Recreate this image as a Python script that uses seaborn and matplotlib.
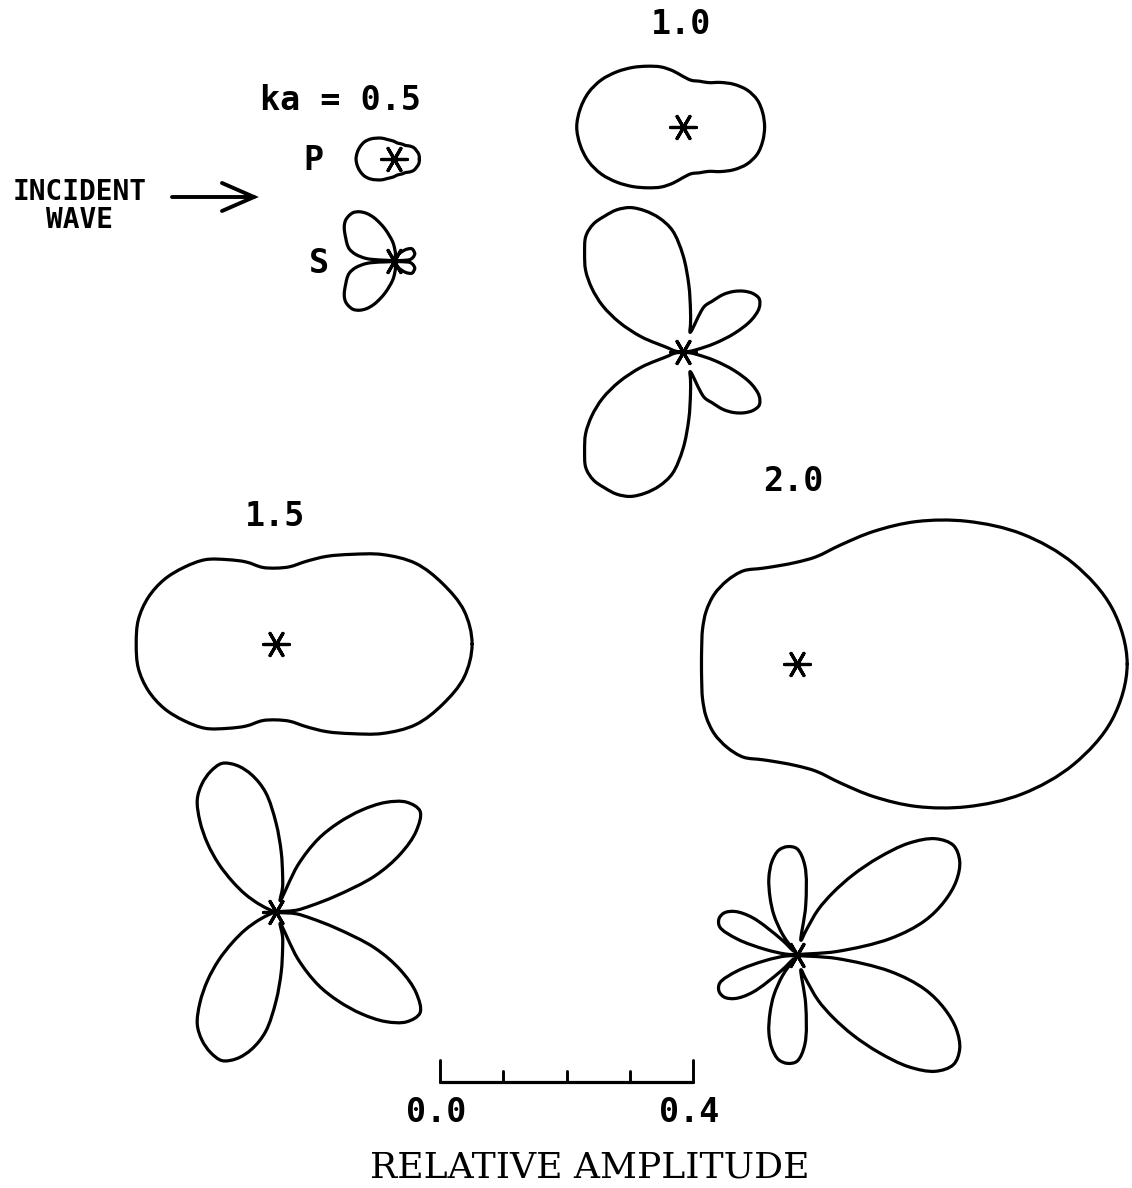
import numpy as np
import pandas as pd
import matplotlib
matplotlib.use("Agg")
import matplotlib.pyplot as plt
from matplotlib.path import Path
from matplotlib.patches import PathPatch
import seaborn as sns

# ---------------------------------------------------------------------------
# Far-field scattered amplitudes (relative to the incident wave) for a
# spherical inclusion, P- and S-wave patterns. Angle is measured from the
# forward direction (incident wave travels left -> right); the patterns are
# symmetric about that axis, so only 0..180 degrees is tabulated.
# ---------------------------------------------------------------------------
ka_labels = ["0.5", "1.0", "1.5", "2.0"]

p_angles = np.arange(0, 181, 10)
s_angles = np.arange(0, 181, 5)

p_ka05 = [0.040, 0.040, 0.038, 0.036, 0.032, 0.028, 0.027, 0.026, 0.026, 0.028,
          0.030, 0.033, 0.038, 0.043, 0.049, 0.054, 0.057, 0.059, 0.060]
p_ka10 = [0.129, 0.128, 0.125, 0.117, 0.105, 0.092, 0.081, 0.077, 0.075, 0.080,
          0.090, 0.101, 0.111, 0.123, 0.136, 0.149, 0.159, 0.165, 0.168]
p_ka15 = [0.310, 0.302, 0.280, 0.255, 0.220, 0.185, 0.160, 0.139, 0.124, 0.120,
          0.123, 0.138, 0.154, 0.174, 0.189, 0.204, 0.215, 0.221, 0.221]
p_ka20 = [0.522, 0.506, 0.465, 0.411, 0.351, 0.294, 0.242, 0.200, 0.172, 0.161,
          0.158, 0.161, 0.170, 0.172, 0.171, 0.166, 0.159, 0.153, 0.151]

s_ka05 = [0.000, 0.025, 0.030, 0.033, 0.035, 0.035, 0.035, 0.034, 0.030, 0.025,
          0.019, 0.014, 0.009, 0.006, 0.005, 0.008, 0.013, 0.017, 0.024, 0.032,
          0.040, 0.051, 0.063, 0.076, 0.087, 0.095, 0.100, 0.101, 0.100, 0.096,
          0.090, 0.084, 0.079, 0.073, 0.062, 0.043, 0.000]
s_ka10 = [0.000, 0.009, 0.022, 0.051, 0.087, 0.119, 0.139, 0.147, 0.144, 0.136,
          0.125, 0.111, 0.093, 0.079, 0.033, 0.046, 0.068, 0.106, 0.153, 0.193,
          0.215, 0.231, 0.243, 0.248, 0.248, 0.247, 0.239, 0.220, 0.201, 0.176,
          0.147, 0.111, 0.070, 0.024, 0.016, 0.009, 0.000]
s_ka15 = [0.000, 0.032, 0.055, 0.098, 0.166, 0.217, 0.256, 0.278, 0.270, 0.245,
          0.210, 0.172, 0.133, 0.082, 0.019, 0.040, 0.060, 0.095, 0.141, 0.190,
          0.220, 0.240, 0.250, 0.245, 0.234, 0.217, 0.187, 0.153, 0.118, 0.084,
          0.056, 0.030, 0.011, 0.005, 0.003, 0.002, 0.000]
s_ka20 = [0.000, 0.063, 0.150, 0.209, 0.248, 0.278, 0.297, 0.302, 0.286, 0.250,
          0.201, 0.155, 0.114, 0.079, 0.040, 0.024, 0.079, 0.142, 0.168, 0.172,
          0.168, 0.153, 0.130, 0.101, 0.073, 0.040, 0.008, 0.035, 0.092, 0.120,
          0.133, 0.136, 0.130, 0.098, 0.051, 0.019, 0.000]

scale_ticks = [0.0, 0.1, 0.2, 0.3, 0.4]
scale_labels = ["0.0", "0.4"]

# ---------------------------------------------------------------------------
# Page layout (pixel coordinates on the sheet, y downwards)
# ---------------------------------------------------------------------------
W, H = 1132, 1188
PX_PER_UNIT = 632.5          # one unit of relative amplitude on the sheet

pattern_origin = {           # (x, y_P, y_S)
    "0.5": (394, 159, 261),
    "1.0": (683, 127, 352),
    "1.5": (276, 644, 912),
    "2.0": (797, 664, 955),
}
p_data = {"0.5": p_ka05, "1.0": p_ka10, "1.5": p_ka15, "2.0": p_ka20}
s_data = {"0.5": s_ka05, "1.0": s_ka10, "1.5": s_ka15, "2.0": s_ka20}

LW = 2.3
INK = "black"

sns.set_theme(style="white")
plt.rcParams["font.family"] = ["DejaVu Sans Mono", "DejaVu Sans"]

fig = plt.figure(figsize=(W / 100, H / 100), dpi=100)
ax = fig.add_axes([0, 0, 1, 1])


def pattern_path(angles, radii, cx, cy, alpha=0.5):
    """Closed polar curve through the tabulated amplitudes, drawn as a
    centripetal Catmull-Rom spline expressed with cubic Bezier segments."""
    angles = np.asarray(angles, float)
    radii = np.asarray(radii, float)
    th = np.deg2rad(np.concatenate([angles, 360.0 - angles[-2:0:-1]]))
    r = np.concatenate([radii, radii[-2:0:-1]]) * PX_PER_UNIT
    pts = np.column_stack([cx + r * np.cos(th), cy - r * np.sin(th)])
    n = len(pts)
    verts = [pts[0]]
    codes = [Path.MOVETO]
    eps = 1e-6
    for i in range(n):
        p0, p1, p2, p3 = pts[(i - 1) % n], pts[i], pts[(i + 1) % n], pts[(i + 2) % n]
        d1 = max(np.linalg.norm(p1 - p0) ** alpha, eps)
        d2 = max(np.linalg.norm(p2 - p1) ** alpha, eps)
        d3 = max(np.linalg.norm(p3 - p2) ** alpha, eps)
        b1 = (d1 ** 2 * p2 - d2 ** 2 * p0
              + (2 * d1 ** 2 + 3 * d1 * d2 + d2 ** 2) * p1) / (3 * d1 * (d1 + d2))
        b2 = (d3 ** 2 * p1 - d2 ** 2 * p3
              + (2 * d3 ** 2 + 3 * d3 * d2 + d2 ** 2) * p2) / (3 * d3 * (d3 + d2))
        verts += [b1, b2, p2]
        codes += [Path.CURVE4] * 3
    return Path(verts, codes)


for ka in ka_labels:
    x0, yp, ys = pattern_origin[ka]
    for angles, radii, y0 in ((p_angles, p_data[ka], yp), (s_angles, s_data[ka], ys)):
        ax.add_patch(PathPatch(pattern_path(angles, radii, x0, y0), fill=False,
                               edgecolor=INK, lw=LW, joinstyle="round",
                               capstyle="round"))

# scattering centres
centres = pd.DataFrame(
    [(pattern_origin[k][0], pattern_origin[k][1]) for k in ka_labels]
    + [(pattern_origin[k][0], pattern_origin[k][2]) for k in ka_labels],
    columns=["x", "y"])
sns.scatterplot(data=centres, x="x", y="y", marker=(6, 2, 90), s=340,
                color=INK, edgecolor=INK, linewidth=2.3, ax=ax, zorder=5,
                legend=False)
ax.set_xlim(0, W)
ax.set_ylim(H, 0)
ax.axis("off")

# labels
lab = dict(color=INK, fontweight="bold", fontsize=24, ha="center", va="baseline")
ax.text(340, 110, "ka = 0.5", **lab)
ax.text(681, 34, "1.0", **lab)
ax.text(275, 526, "1.5", **lab)
ax.text(793, 491, "2.0", **lab)
ax.text(313, 170, "P", **lab)
ax.text(319, 273, "S", **lab)

inc = dict(color=INK, fontweight="bold", fontsize=20, ha="center", va="baseline")
ax.text(80, 200, "INCIDENT", **inc)
ax.text(80, 228, "WAVE", **inc)
ax.plot([172, 254], [197, 197], color=INK, lw=2.8, solid_capstyle="round")
ax.plot([222, 254, 222], [183, 197, 211], color=INK, lw=2.8,
        solid_capstyle="round", solid_joinstyle="miter")

# amplitude scale bar
bar_x0, bar_y = 440, 1082
tick_x = [bar_x0 + t * PX_PER_UNIT for t in scale_ticks]
ax.plot([tick_x[0], tick_x[-1]], [bar_y, bar_y], color=INK, lw=2.3)
for i, tx in enumerate(tick_x):
    top = bar_y - 22 if i in (0, len(tick_x) - 1) else bar_y - 11
    ax.plot([tx, tx], [bar_y, top], color=INK, lw=2.1)
ax.text(tick_x[0] - 4, 1122, scale_labels[0], **lab)
ax.text(tick_x[-1] - 4, 1122, scale_labels[1], **lab)
ax.text(590, 1178, "RELATIVE AMPLITUDE", color=INK, fontsize=26,
        family="DejaVu Serif", ha="center", va="baseline")

fig.savefig("out.png", dpi=100, facecolor="white")
